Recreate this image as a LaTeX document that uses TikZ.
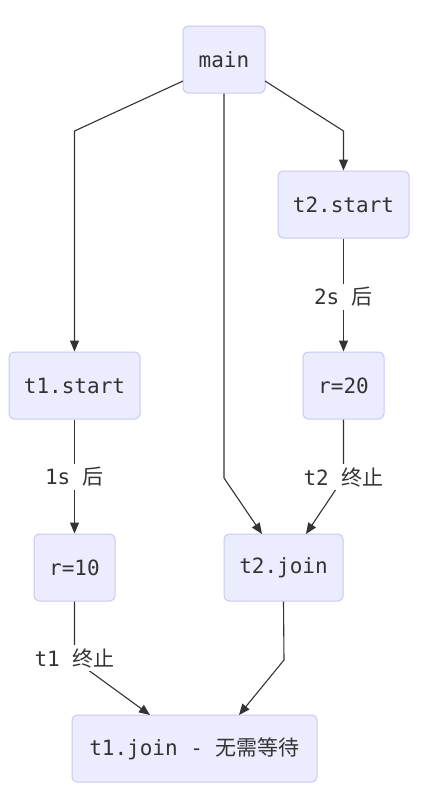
\documentclass[tikz,border=0pt]{standalone}
\usepackage{fontspec}
\setmonofont{DejaVu Sans Mono}
\newfontfamily\cjk{Noto Sans CJK SC}
\usetikzlibrary{arrows.meta}
\definecolor{boxfill}{HTML}{ECECFF}
\definecolor{boxline}{HTML}{C8C8F6}
\definecolor{linec}{HTML}{333333}
\definecolor{textc}{HTML}{333333}
\begin{document}
\begin{tikzpicture}[x=1pt,y=-1pt,
  box/.style={draw=boxline, fill=boxfill, line width=1pt, rounded corners=5pt,
    minimum height=67pt, inner sep=0pt, font=\fontsize{21}{24}\selectfont\ttfamily, text=textc},
  conn/.style={draw=linec, line width=1.1pt, -{Triangle[length=11pt,width=9pt]}},
  lbl/.style={fill=white, inner sep=3pt, font=\fontsize{21}{24}\selectfont\ttfamily, text=textc}]
\useasboundingbox[fill=white] (0,0) rectangle (435,796);
% nodes
\node[box, minimum width=82pt] (main) at (224,59.5) {main};
\node[box, minimum width=131pt] (t2start) at (343.5,204.5) {t2.start};
\node[box, minimum width=131pt] (t1start) at (74.5,385.5) {t1.start};
\node[box, minimum width=81pt] (r20) at (343.5,385.5) {r=20};
\node[box, minimum width=81pt] (r10) at (74.5,567.5) {r=10};
\node[box, minimum width=119pt] (t2join) at (283.5,567.5) {t2.join};
\node[box, minimum width=245pt] (t1join) at (194.5,748.5) {t1.join - {\cjk 无需等待}};
% bend coordinates
\coordinate (a1) at (183,81);
\coordinate (b1) at (74.5,131);
\coordinate (a2) at (265,81);
\coordinate (b2) at (343.5,131);
\coordinate (b3) at (224,478);
\coordinate (e3) at (262,534);
\coordinate (b4) at (343.5,478);
\coordinate (e4) at (306,534);
\coordinate (b5) at (74.5,660);
\coordinate (e5) at (150,715);
\coordinate (b6) at (284,660);
\coordinate (e6) at (239,715);
% connectors
\draw[conn] (a1) -- (b1) -- (t1start.north);
\draw[conn] (a2) -- (b2) -- (t2start.north);
\draw[conn] (main.south) -- (b3) -- (e3);
\draw[conn] (t2start.south) -- (r20.north);
\draw[conn] (t1start.south) -- (r10.north);
\draw[conn] (r20.south) -- (b4) -- (e4);
\draw[conn] (r10.south) -- (b5) -- (e5);
\draw[conn] (t2join.south) -- (b6) -- (e6);
% labels
\node[lbl] (l1) at (343.5,297) {2s {\cjk 后}};
\node[lbl] (l2) at (74.5,477) {1s {\cjk 后}};
\node[lbl] (l3) at (343.5,477) {t2 {\cjk 终止}};
\node[lbl] (l4) at (74.5,658) {t1 {\cjk 终止}};
\end{tikzpicture}
\end{document}
